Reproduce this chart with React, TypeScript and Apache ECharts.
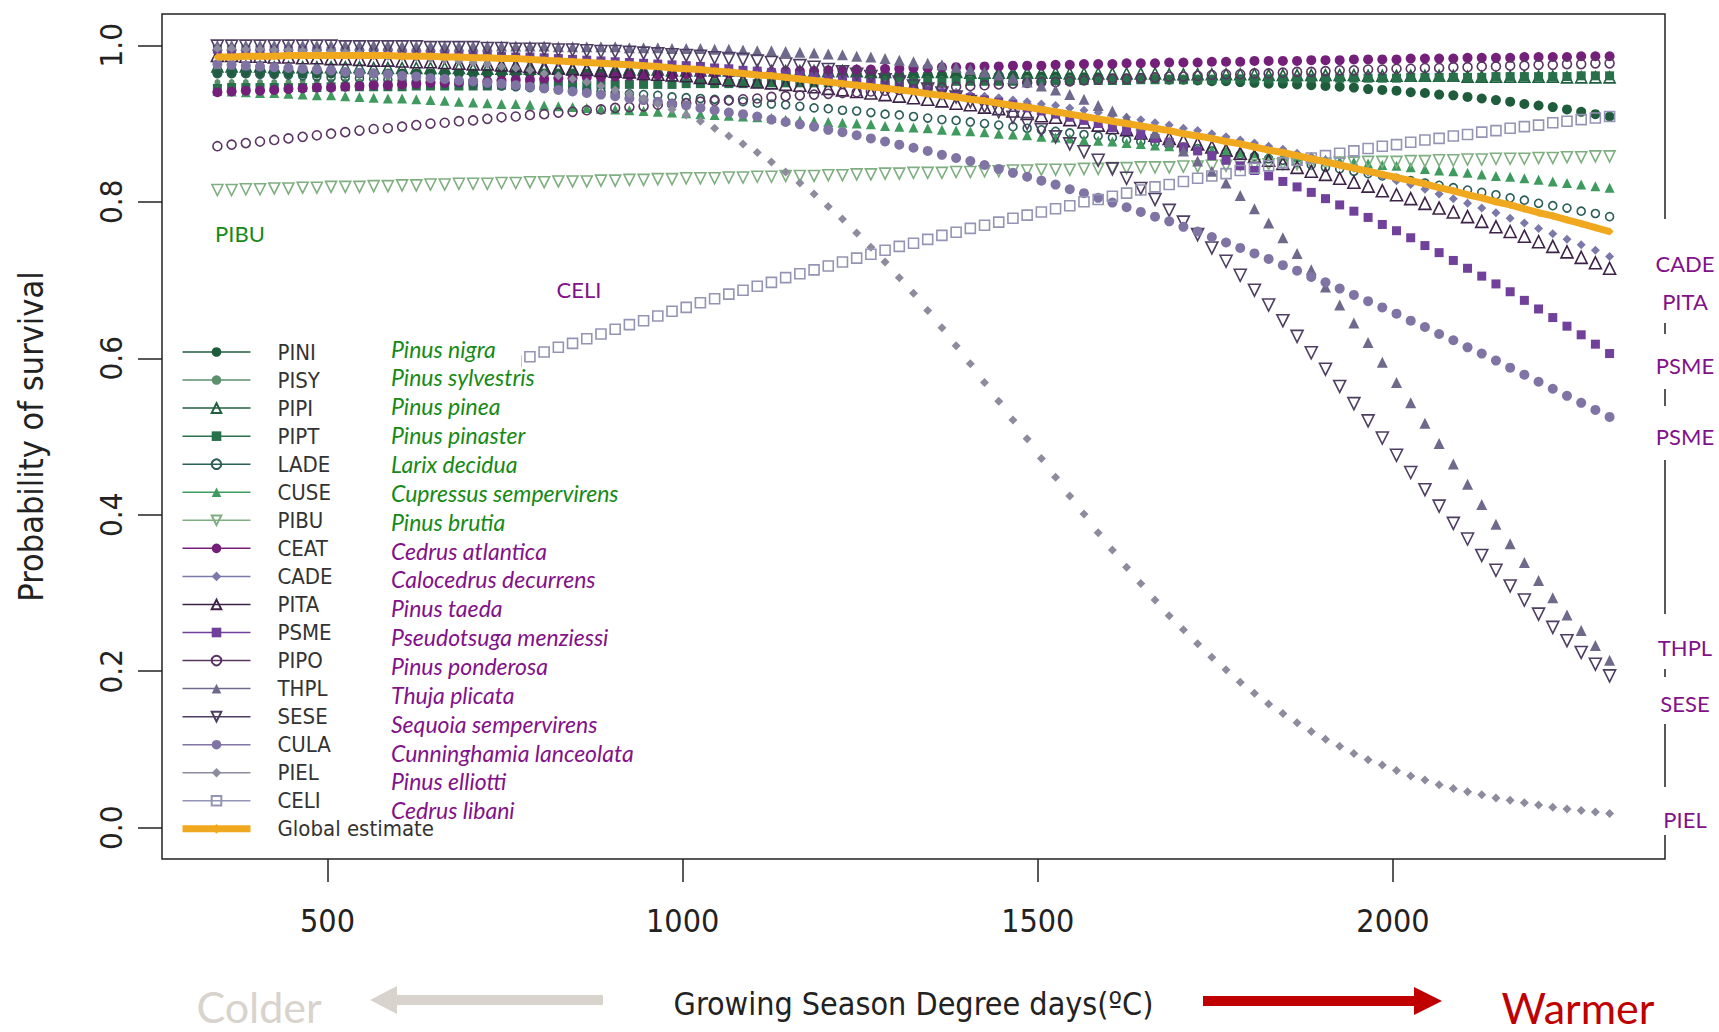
import React, { useEffect, useRef } from "react";
import * as echarts from "echarts";

// Growing season degree days (x values of every curve)
const GDD = [
  345, 365, 385, 405, 425, 445, 465, 485, 505, 525,
  545, 565, 585, 605, 625, 645, 665, 685, 705, 725,
  745, 765, 785, 805, 825, 845, 865, 885, 905, 925,
  945, 965, 985, 1005, 1025, 1045, 1065, 1085, 1105, 1125,
  1145, 1165, 1185, 1205, 1225, 1245, 1265, 1285, 1305, 1325,
  1345, 1365, 1385, 1405, 1425, 1445, 1465, 1485, 1505, 1525,
  1545, 1565, 1585, 1605, 1625, 1645, 1665, 1685, 1705, 1725,
  1745, 1765, 1785, 1805, 1825, 1845, 1865, 1885, 1905, 1925,
  1945, 1965, 1985, 2005, 2025, 2045, 2065, 2085, 2105, 2125,
  2145, 2165, 2185, 2205, 2225, 2245, 2265, 2285, 2305,
];

const PINI = [
  .964, .964, .964, .964, .964, .964, .964, .964, .964, .964,
  .964, .964, .964, .964, .964, .964, .964, .964, .964, .964,
  .964, .964, .964, .964, .964, .964, .964, .964, .964, .964,
  .964, .964, .964, .964, .964, .964, .964, .964, .964, .964,
  .963, .963, .963, .963, .963, .963, .963, .963, .962, .962,
  .962, .962, .962, .962, .961, .961, .961, .960, .960, .960,
  .959, .959, .959, .958, .958, .957, .957, .956, .956, .955,
  .954, .954, .953, .952, .951, .951, .950, .949, .948, .947,
  .946, .944, .943, .942, .940, .939, .937, .936, .934, .932,
  .930, .928, .925, .923, .921, .918, .915, .912, .909,
];
const PISY = [
  .953, .953, .953, .953, .953, .953, .954, .954, .954, .954,
  .954, .954, .954, .954, .954, .954, .954, .954, .955, .955,
  .955, .955, .955, .955, .955, .955, .955, .955, .955, .955,
  .955, .956, .956, .956, .956, .956, .956, .956, .956, .956,
  .956, .956, .956, .957, .957, .957, .957, .957, .957, .957,
  .957, .957, .957, .957, .957, .958, .958, .958, .958, .958,
  .958, .958, .958, .958, .958, .958, .958, .959, .959, .959,
  .959, .959, .959, .959, .959, .959, .959, .959, .959, .959,
  .960, .960, .960, .960, .960, .960, .960, .960, .960, .960,
  .960, .960, .961, .961, .961, .961, .961, .961, .961,
];
const PIPI = [
  .973, .973, .973, .973, .972, .972, .972, .972, .972, .972,
  .972, .971, .971, .971, .971, .971, .971, .971, .970, .970,
  .970, .970, .970, .970, .970, .969, .969, .969, .969, .969,
  .969, .969, .968, .968, .968, .968, .968, .968, .968, .967,
  .967, .967, .967, .967, .967, .967, .966, .966, .966, .966,
  .966, .966, .966, .965, .965, .965, .965, .965, .965, .965,
  .964, .964, .964, .964, .964, .964, .964, .963, .963, .963,
  .963, .963, .963, .963, .962, .962, .962, .962, .962, .962,
  .962, .961, .961, .961, .961, .961, .961, .961, .960, .960,
  .960, .960, .960, .960, .960, .959, .959, .959, .959,
];
const PIPT = [
  .945, .946, .946, .946, .946, .946, .946, .946, .947, .947,
  .947, .947, .947, .947, .948, .948, .948, .948, .948, .948,
  .949, .949, .949, .949, .949, .949, .949, .950, .950, .950,
  .950, .950, .950, .951, .951, .951, .951, .951, .951, .952,
  .952, .952, .952, .952, .952, .952, .953, .953, .953, .953,
  .953, .953, .954, .954, .954, .954, .954, .954, .955, .955,
  .955, .955, .955, .955, .955, .956, .956, .956, .956, .956,
  .956, .957, .957, .957, .957, .957, .957, .958, .958, .958,
  .958, .958, .958, .958, .959, .959, .959, .959, .959, .959,
  .960, .960, .960, .960, .960, .960, .961, .961, .961,
];
const LADE = [
  .965, .965, .964, .963, .963, .962, .961, .960, .959, .959,
  .958, .957, .956, .955, .954, .953, .952, .951, .950, .949,
  .948, .947, .946, .945, .944, .943, .942, .941, .939, .938,
  .937, .936, .934, .933, .932, .931, .929, .928, .926, .925,
  .924, .922, .920, .919, .917, .916, .914, .912, .911, .909,
  .907, .905, .904, .902, .900, .898, .896, .894, .892, .890,
  .888, .886, .884, .882, .879, .877, .875, .872, .870, .868,
  .865, .863, .860, .858, .855, .853, .850, .847, .844, .842,
  .839, .836, .833, .830, .827, .824, .821, .818, .815, .812,
  .809, .805, .802, .798, .795, .792, .788, .785, .781,
];
const CUSE = [
  .942, .941, .940, .939, .939, .938, .937, .936, .936, .935,
  .934, .933, .932, .932, .931, .930, .929, .928, .927, .926,
  .925, .925, .924, .923, .922, .921, .920, .919, .918, .917,
  .916, .915, .914, .913, .912, .911, .910, .909, .908, .907,
  .905, .904, .903, .902, .901, .900, .899, .897, .896, .895,
  .894, .892, .891, .890, .889, .887, .886, .885, .883, .882,
  .881, .879, .878, .877, .875, .874, .872, .871, .869, .868,
  .866, .865, .863, .862, .860, .859, .857, .855, .854, .852,
  .851, .849, .847, .846, .844, .842, .840, .839, .837, .835,
  .833, .832, .830, .828, .826, .824, .822, .820, .818,
];
const PIBU = [
  .815, .815, .816, .816, .817, .817, .818, .818, .819, .819,
  .819, .820, .820, .821, .821, .822, .822, .823, .823, .823,
  .824, .824, .825, .825, .826, .826, .826, .827, .827, .828,
  .828, .829, .829, .830, .830, .830, .831, .831, .832, .832,
  .833, .833, .833, .834, .834, .835, .835, .836, .836, .837,
  .837, .837, .838, .838, .839, .839, .840, .840, .841, .841,
  .841, .842, .842, .843, .843, .844, .844, .844, .845, .845,
  .846, .846, .847, .847, .848, .848, .848, .849, .849, .850,
  .850, .851, .851, .851, .852, .852, .853, .853, .854, .854,
  .855, .855, .855, .856, .856, .857, .857, .858, .858,
];
const CEAT = [
  .940, .941, .942, .942, .943, .944, .945, .946, .946, .947,
  .948, .949, .949, .950, .951, .952, .952, .953, .954, .954,
  .955, .956, .956, .957, .958, .958, .959, .959, .960, .961,
  .961, .962, .962, .963, .963, .964, .964, .965, .965, .966,
  .967, .967, .967, .968, .968, .969, .969, .970, .970, .971,
  .971, .972, .972, .972, .973, .973, .974, .974, .974, .975,
  .975, .976, .976, .976, .977, .977, .977, .978, .978, .978,
  .979, .979, .979, .980, .980, .980, .980, .981, .981, .981,
  .982, .982, .982, .982, .983, .983, .983, .983, .984, .984,
  .984, .984, .985, .985, .985, .985, .986, .986, .986,
];
const CADE = [
  .991, .991, .991, .990, .990, .989, .989, .989, .988, .988,
  .987, .987, .986, .986, .985, .985, .984, .983, .983, .982,
  .981, .981, .980, .979, .978, .978, .977, .976, .975, .974,
  .973, .972, .971, .970, .969, .967, .966, .965, .964, .962,
  .961, .959, .958, .956, .955, .953, .951, .950, .948, .946,
  .944, .942, .940, .937, .935, .933, .930, .928, .925, .923,
  .920, .917, .914, .911, .908, .905, .901, .898, .894, .891,
  .887, .883, .879, .875, .871, .867, .862, .858, .853, .848,
  .843, .838, .833, .827, .822, .816, .810, .804, .798, .792,
  .786, .779, .773, .766, .759, .752, .745, .738, .730,
];
const PITA = [
  .987, .987, .986, .986, .985, .985, .984, .984, .983, .983,
  .982, .981, .981, .980, .979, .979, .978, .977, .976, .976,
  .975, .974, .973, .972, .971, .970, .969, .968, .967, .966,
  .964, .963, .962, .961, .959, .958, .956, .955, .953, .952,
  .950, .949, .947, .945, .943, .941, .939, .937, .935, .933,
  .931, .929, .926, .924, .921, .919, .916, .913, .910, .908,
  .905, .902, .898, .895, .892, .888, .885, .881, .878, .874,
  .870, .866, .862, .858, .853, .849, .844, .839, .835, .830,
  .825, .820, .814, .809, .804, .798, .792, .787, .781, .775,
  .768, .762, .756, .749, .743, .736, .729, .722, .715,
];
const PSME = [
  .995, .994, .994, .994, .994, .993, .993, .993, .992, .992,
  .991, .991, .991, .990, .990, .989, .989, .988, .987, .987,
  .986, .985, .985, .984, .983, .982, .981, .980, .979, .978,
  .977, .976, .975, .974, .973, .971, .970, .968, .967, .965,
  .964, .962, .960, .958, .956, .954, .952, .949, .947, .944,
  .942, .939, .936, .933, .930, .927, .924, .920, .916, .912,
  .908, .904, .900, .895, .891, .886, .881, .876, .870, .865,
  .859, .853, .846, .840, .833, .826, .819, .812, .804, .796,
  .788, .780, .771, .763, .754, .744, .735, .725, .715, .705,
  .695, .685, .674, .663, .652, .641, .630, .618, .606,
];
const PIPO = [
  .871, .873, .875, .877, .879, .881, .883, .885, .887, .889,
  .891, .893, .894, .896, .898, .900, .901, .903, .904, .906,
  .908, .909, .911, .912, .914, .915, .917, .918, .920, .921,
  .922, .924, .925, .926, .928, .929, .930, .931, .932, .934,
  .935, .936, .937, .938, .939, .940, .941, .942, .943, .944,
  .945, .946, .947, .948, .949, .950, .951, .952, .953, .953,
  .954, .955, .956, .957, .957, .958, .959, .960, .960, .961,
  .962, .963, .963, .964, .964, .965, .966, .966, .967, .968,
  .968, .969, .969, .970, .970, .971, .971, .972, .972, .973,
  .973, .974, .974, .975, .975, .976, .976, .977, .977,
];
const THPL = [
  1.0, 1.0, 1.0, 1.0, 1.0, 1.0, 1.0, 1.0, 1.0, 1.0,
  1.0, 1.0, 1.0, .999, .999, .999, .999, .999, .999, .999,
  .999, .999, .999, .999, .998, .998, .998, .998, .998, .997,
  .997, .997, .996, .996, .996, .995, .995, .994, .993, .993,
  .992, .991, .990, .989, .988, .986, .985, .983, .981, .979,
  .977, .975, .972, .969, .966, .962, .958, .953, .948, .943,
  .937, .931, .923, .916, .907, .898, .888, .877, .865, .852,
  .839, .824, .808, .791, .773, .754, .734, .713, .691, .668,
  .645, .620, .595, .569, .543, .517, .491, .465, .439, .413,
  .388, .363, .339, .316, .294, .272, .252, .233, .214,
];
const SESE = [
  .999, .999, .999, .999, .999, .999, .999, .999, .999, .998,
  .998, .998, .998, .998, .998, .997, .997, .997, .997, .996,
  .996, .995, .995, .995, .994, .994, .993, .992, .992, .991,
  .990, .989, .988, .987, .986, .984, .983, .982, .980, .978,
  .976, .974, .972, .969, .966, .963, .960, .956, .953, .948,
  .944, .939, .934, .928, .922, .915, .908, .900, .892, .883,
  .874, .864, .853, .842, .830, .817, .803, .789, .774, .758,
  .741, .724, .706, .687, .668, .648, .628, .607, .586, .564,
  .542, .520, .498, .476, .454, .432, .411, .389, .369, .348,
  .329, .309, .291, .273, .256, .239, .224, .209, .194,
];
const CULA = [
  .976, .975, .974, .973, .972, .971, .970, .969, .968, .966,
  .965, .964, .963, .961, .960, .958, .957, .955, .954, .952,
  .951, .949, .947, .945, .943, .941, .939, .937, .935, .932,
  .930, .928, .925, .923, .920, .917, .914, .912, .909, .905,
  .902, .899, .896, .892, .889, .885, .881, .877, .873, .869,
  .865, .860, .856, .852, .847, .842, .837, .832, .827, .822,
  .816, .811, .805, .799, .793, .787, .781, .775, .768, .762,
  .755, .748, .741, .734, .727, .719, .712, .704, .697, .689,
  .681, .673, .665, .657, .648, .640, .631, .623, .614, .606,
  .597, .588, .579, .570, .561, .552, .543, .534, .525,
];
const PIEL = [
  .996, .996, .995, .995, .994, .994, .993, .992, .992, .991,
  .990, .989, .988, .986, .985, .983, .982, .980, .978, .976,
  .973, .971, .968, .964, .961, .957, .953, .948, .943, .938,
  .932, .925, .918, .911, .903, .894, .884, .874, .863, .851,
  .838, .824, .810, .794, .778, .760, .742, .723, .703, .683,
  .661, .639, .616, .593, .569, .545, .521, .497, .472, .448,
  .424, .401, .377, .355, .333, .312, .291, .271, .253, .235,
  .218, .202, .186, .172, .158, .146, .134, .123, .113, .104,
  .095, .087, .080, .073, .066, .061, .055, .050, .046, .042,
  .038, .035, .032, .029, .026, .024, .022, .020, .018,
];
const CELI = [
  .466, .473, .479, .485, .491, .497, .504, .510, .516, .522,
  .529, .535, .541, .547, .553, .559, .565, .572, .578, .584,
  .590, .596, .602, .608, .614, .619, .625, .631, .637, .643,
  .648, .654, .660, .665, .671, .676, .682, .687, .692, .697,
  .703, .708, .713, .718, .723, .728, .733, .738, .743, .747,
  .752, .757, .761, .766, .770, .774, .779, .783, .787, .791,
  .795, .800, .803, .807, .811, .815, .819, .822, .826, .830,
  .833, .836, .840, .843, .846, .850, .853, .856, .859, .862,
  .865, .868, .871, .873, .876, .879, .881, .884, .886, .889,
  .891, .894, .896, .898, .901, .903, .905, .907, .909,
];
const GLOBAL = [
  .985, .985, .986, .986, .986, .987, .987, .987, .987, .987,
  .987, .987, .987, .986, .986, .986, .985, .985, .984, .984,
  .983, .983, .982, .981, .980, .979, .978, .977, .976, .975,
  .974, .973, .971, .970, .969, .967, .966, .964, .962, .961,
  .959, .957, .955, .953, .951, .949, .947, .945, .943, .941,
  .938, .936, .934, .931, .929, .926, .923, .921, .918, .915,
  .912, .909, .906, .903, .900, .897, .894, .891, .887, .884,
  .881, .877, .874, .870, .866, .863, .859, .855, .851, .847,
  .843, .839, .835, .831, .827, .823, .818, .814, .809, .805,
  .800, .796, .791, .786, .782, .777, .772, .767, .762,
];

const CODES = ["PINI", "PISY", "PIPI", "PIPT", "LADE", "CUSE", "PIBU", "CEAT", "CADE", "PITA", "PSME", "PIPO", "THPL", "SESE", "CULA", "PIEL", "CELI"];
const LATIN = [
  "Pinus nigra", "Pinus sylvestris", "Pinus pinea", "Pinus pinaster", "Larix decidua",
  "Cupressus sempervirens", "Pinus brutia", "Cedrus atlantica", "Calocedrus decurrens",
  "Pinus taeda", "Pseudotsuga menziessi", "Pinus ponderosa", "Thuja plicata",
  "Sequoia sempervirens", "Cunninghamia lanceolata", "Pinus elliotti", "Cedrus libani",
];
const GLOBAL_NAME = "Global estimate";
const Y_TICKS = [0, 0.2, 0.4, 0.6, 0.8, 1.0];
const X_TICKS = [500, 1000, 1500, 2000];
const RIGHT_LABELS = ["CADE", "PITA", "PSME", "PSME", "THPL", "SESE", "PIEL"];

// styles (kept apart from the data)
const NARROW = "'Liberation Sans Narrow','Arial Narrow','DejaVu Sans Condensed','Liberation Sans',Arial,sans-serif";
const HUMAN = "Lato,'Open Sans','Noto Sans',sans-serif";
const GREEN_TXT = "#168a14";
const PURPLE_TXT = "#82118a";
const ORANGE = "#f0a91e";

type Sty = { color: string; symbol: string; size: number; hollow?: boolean; rotate?: number };
const STYLES: Record<string, Sty> = {
  PINI: { color: "#1f5c3c", symbol: "circle", size: 10 },
  PISY: { color: "#5c8f6c", symbol: "circle", size: 6 },
  PIPI: { color: "#1f5f3f", symbol: "triangle", size: 11, hollow: true },
  PIPT: { color: "#27704a", symbol: "rect", size: 9 },
  LADE: { color: "#2b5e58", symbol: "circle", size: 8, hollow: true },
  CUSE: { color: "#3f9a5e", symbol: "triangle", size: 10 },
  PIBU: { color: "#7fae80", symbol: "triangle", size: 11, hollow: true, rotate: 180 },
  CEAT: { color: "#74207a", symbol: "circle", size: 10 },
  CADE: { color: "#7b78aa", symbol: "diamond", size: 9 },
  PITA: { color: "#3e2348", symbol: "triangle", size: 12, hollow: true },
  PSME: { color: "#70409a", symbol: "rect", size: 9 },
  PIPO: { color: "#5a3562", symbol: "circle", size: 9, hollow: true },
  THPL: { color: "#6f6a8c", symbol: "triangle", size: 11 },
  SESE: { color: "#4e3e62", symbol: "triangle", size: 12, hollow: true, rotate: 180 },
  CULA: { color: "#8074a4", symbol: "circle", size: 10 },
  PIEL: { color: "#8c8c9e", symbol: "diamond", size: 9 },
  CELI: { color: "#9494b4", symbol: "rect", size: 10, hollow: true },
};

export default function App() {
  const ref = useRef<HTMLDivElement>(null);
  useEffect(() => {
    if (!ref.current) return;
    const chart = echarts.init(ref.current, undefined, { renderer: "svg" });
    const valuesByCode: Record<string, number[]> = {
      PINI, PISY, PIPI, PIPT, LADE, CUSE, PIBU, CEAT, CADE, PITA, PSME, PIPO, THPL, SESE, CULA, PIEL, CELI,
    };
    const series: any[] = CODES.map((code) => {
      const s = STYLES[code];
      return {
        name: code,
        type: "line",
        data: GDD.map((x, i) => [x, valuesByCode[code][i]]),
        symbol: s.symbol,
        symbolSize: s.size,
        symbolRotate: s.rotate || 0,
        showSymbol: true,
        showAllSymbol: true,
        color: s.color,
        lineStyle: { width: 0, color: s.color },
        itemStyle: s.hollow
          ? { color: "rgba(255,255,255,0)", borderColor: s.color, borderWidth: 1.6 }
          : { color: s.color },
        z: 2,
        silent: true,
        animation: false,
      };
    });
    series.push({
      name: GLOBAL_NAME,
      type: "line",
      data: GDD.map((x, i) => [x, GLOBAL[i]]),
      symbol: "diamond",
      symbolSize: 8,
      showSymbol: true,
      color: ORANGE,
      lineStyle: { width: 7, color: ORANGE },
      itemStyle: { color: ORANGE },
      z: 3,
      silent: true,
      animation: false,
    });

    const borderGaps = [[219, 323], [334, 389], [406, 460], [614, 669], [677, 724], [787, 835]];
    const rightY = [263, 301.5, 365, 436, 647, 703, 819];
    const graphics: any[] = [];
    // R legend box (white) hiding points behind it
    graphics.push({ type: "rect", shape: { x: 164, y: 333, width: 357, height: 512 }, style: { fill: "#fff" }, z: 5 });
    borderGaps.forEach(([a, b]) =>
      graphics.push({ type: "rect", shape: { x: 1658, y: a, width: 14, height: b - a }, style: { fill: "#fff" }, z: 6 })
    );
    RIGHT_LABELS.forEach((t, i) =>
      graphics.push({
        type: "text", x: 1685, y: rightY[i], z: 30,
        style: { text: t, fill: PURPLE_TXT, font: `22px ${HUMAN}`, align: "center", verticalAlign: "middle" },
      })
    );
    LATIN.forEach((t, i) =>
      graphics.push({
        type: "text", x: 391, y: 348.6 + 28.85 * i, z: 30,
        style: { text: t, fill: i < 7 ? GREEN_TXT : PURPLE_TXT, font: `italic 23px ${HUMAN}`, align: "left", verticalAlign: "middle" },
      })
    );
    graphics.push({
      type: "text", x: 240, y: 233.5, z: 30,
      style: { text: "PIBU", fill: GREEN_TXT, font: `22px ${HUMAN}`, align: "center", verticalAlign: "middle" },
    });
    graphics.push({
      type: "text", x: 579, y: 289, z: 30,
      style: { text: "CELI", fill: PURPLE_TXT, font: `22px ${HUMAN}`, align: "center", verticalAlign: "middle" },
    });
    // bottom annotation
    graphics.push({
      type: "text", x: 259, y: 1006, z: 30,
      style: { text: "Colder", fill: "#d9d3cd", font: `43px ${HUMAN}`, align: "center", verticalAlign: "middle" },
    });
    graphics.push({
      type: "polygon", z: 30,
      shape: { points: [[603, 995], [397, 995], [397, 986], [370, 1000], [397, 1014], [397, 1005], [603, 1005]] },
      style: { fill: "#d9d3ce" },
    });
    graphics.push({
      type: "polygon", z: 30,
      shape: { points: [[1203, 996], [1414, 996], [1414, 987], [1442, 1001], [1414, 1015], [1414, 1006], [1203, 1006]] },
      style: { fill: "#c00000" },
    });
    graphics.push({
      type: "text", x: 1578, y: 1007, z: 30,
      style: { text: "Warmer", fill: "#c00000", font: `43px ${HUMAN}`, align: "center", verticalAlign: "middle" },
    });

    const legendData: any[] = CODES.map((c) => ({ name: c }));
    legendData.push({ name: GLOBAL_NAME, lineStyle: { width: 7, color: ORANGE } });

    const option: any = {
      animation: false,
      backgroundColor: "#fff",
      grid: { left: 162, top: 14, width: 1503, height: 845, show: true, borderColor: "#222", borderWidth: 1.5 },
      xAxis: {
        type: "value",
        min: 267,
        max: 2383,
        name: "Growing Season Degree days(ºC)",
        nameLocation: "middle",
        nameGap: 129,
        nameMoveOverlap: false,
        nameTextStyle: { fontFamily: NARROW, fontSize: 32, color: "#222" },
        axisLine: { show: false, onZero: false },
        splitLine: { show: false },
        axisTick: { show: true, length: 23, customValues: X_TICKS, lineStyle: { color: "#222", width: 1.5 } },
        axisLabel: {
          customValues: X_TICKS,
          margin: 46,
          fontFamily: NARROW,
          fontSize: 32,
          color: "#222",
          formatter: (v: number) => String(v),
        },
      },
      yAxis: {
        type: "value",
        min: -0.04,
        max: 1.04,
        name: "Probability of survival",
        nameLocation: "middle",
        nameGap: 114,
        nameRotate: 90,
        nameMoveOverlap: false,
        nameTextStyle: { fontFamily: NARROW, fontSize: 34, color: "#222" },
        axisLine: { show: false, onZero: false },
        splitLine: { show: false },
        axisTick: { show: true, length: 24, customValues: Y_TICKS, lineStyle: { color: "#222", width: 1.5 } },
        axisLabel: {
          customValues: Y_TICKS,
          rotate: 90,
          margin: 36,
          fontFamily: NARROW,
          fontSize: 31,
          color: "#222",
          formatter: (v: number) => v.toFixed(1),
        },
      },
      legend: {
        orient: "vertical",
        left: 179,
        top: 341,
        padding: 0,
        itemGap: 6.05,
        itemWidth: 68,
        itemHeight: 12,
        z: 20,
        selectedMode: false,
        lineStyle: { width: 1.5 },
        textStyle: { fontFamily: NARROW, fontSize: 22, color: "#333", padding: [0, 0, 0, 22], lineHeight: 20 },
        data: legendData,
      },
      series,
      graphic: { elements: graphics },
    };
    chart.setOption(option);
    return () => chart.dispose();
  }, []);
  return (
    <div
      ref={ref}
      style={{ position: "fixed", left: 0, top: 0, width: 1719, height: 1032, background: "#fff" }}
    />
  );
}
